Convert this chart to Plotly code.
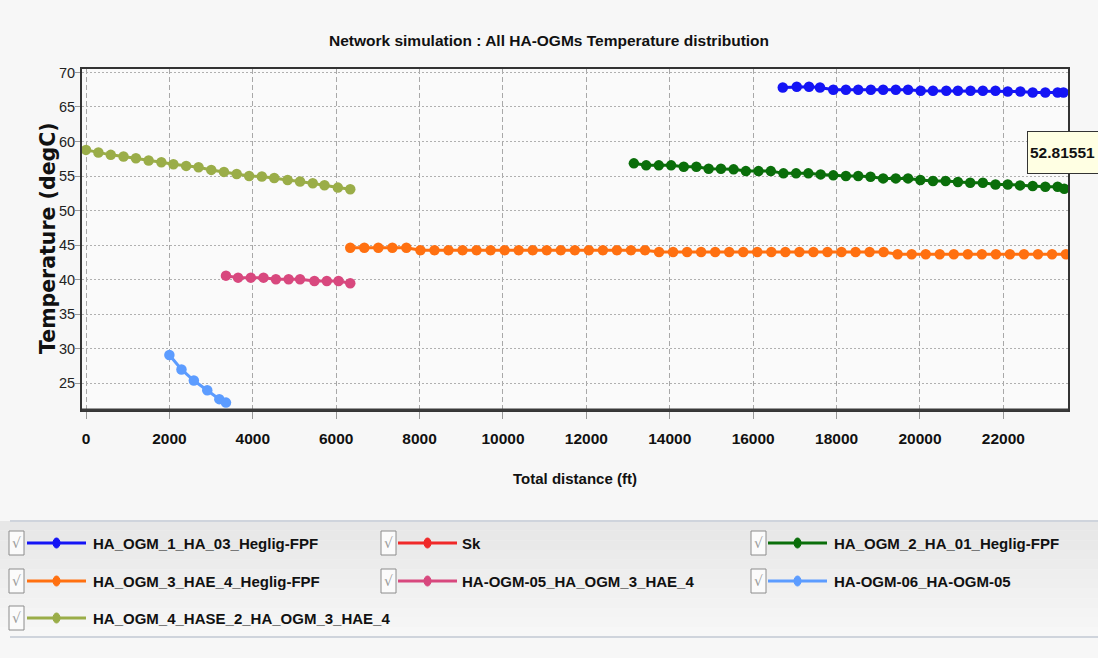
import plotly.graph_objects as go

# ---------------- data ----------------
series_names = [
    "HA_OGM_1_HA_03_Heglig-FPF",
    "Sk",
    "HA_OGM_2_HA_01_Heglig-FPF",
    "HA_OGM_3_HAE_4_Heglig-FPF",
    "HA-OGM-05_HA_OGM_3_HAE_4",
    "HA-OGM-06_HA-OGM-05",
    "HA_OGM_4_HASE_2_HA_OGM_3_HAE_4",
]
series_colors = ["#1414f5", "#f02828", "#0a6e0a", "#ff7010", "#d8487e", "#5c9cff", "#9aad48"]

ogm1_x = [16710, 17045, 17339, 17602, 17921, 18224, 18519, 18822, 19117, 19420, 19714, 20017,
          20312, 20631, 20910, 21213, 21508, 21811, 22105, 22408, 22703, 23006, 23301, 23440]
ogm1_y = [67.83, 67.92, 67.92, 67.83, 67.49, 67.49, 67.49, 67.49, 67.49, 67.49, 67.49, 67.34,
          67.34, 67.34, 67.34, 67.34, 67.34, 67.34, 67.25, 67.25, 67.10, 67.10, 67.10, 67.10]

sk_x = []
sk_y = []

ogm2_x = [13139, 13434, 13737, 14032, 14335, 14638, 14932, 15227, 15530, 15825, 16128, 16423,
          16726, 17029, 17323, 17618, 17921, 18224, 18519, 18814, 19117, 19420, 19714, 20009,
          20312, 20615, 20910, 21205, 21508, 21811, 22105, 22400, 22703, 23006, 23301, 23460]
ogm2_y = [56.84, 56.55, 56.55, 56.55, 56.35, 56.35, 56.06, 56.06, 55.97, 55.72, 55.72, 55.72,
          55.39, 55.39, 55.39, 55.24, 55.10, 55.00, 55.00, 54.90, 54.66, 54.66, 54.66, 54.42,
          54.28, 54.28, 54.13, 54.03, 54.03, 53.79, 53.79, 53.65, 53.55, 53.45, 53.45, 53.16]

ogm3_x = [6337, 6674, 7010, 7347, 7683, 8020, 8357, 8693, 9030, 9366, 9703, 10040, 10376,
          10713, 11049, 11386, 11723, 12059, 12396, 12732, 13069, 13406, 13742, 14079, 14415,
          14752, 15089, 15425, 15762, 16098, 16435, 16772, 17108, 17445, 17781, 18118, 18455,
          18791, 19128, 19464, 19801, 20138, 20474, 20811, 21147, 21484, 21821, 22157, 22494,
          22830, 23167, 23500]
ogm3_y = [44.62, 44.62, 44.62, 44.62, 44.62,
          44.27, 44.27, 44.27, 44.27, 44.27, 44.27, 44.27, 44.27, 44.27, 44.27, 44.27, 44.27,
          44.27, 44.27, 44.27, 44.27, 44.27,
          44.00, 44.00, 44.00, 44.00, 44.00, 44.00, 44.00, 44.00, 44.00, 44.00, 44.00, 44.00,
          44.00, 44.00, 44.00, 44.00, 44.00,
          43.67, 43.67, 43.67, 43.67, 43.67, 43.67, 43.67, 43.67, 43.67, 43.67, 43.67, 43.67,
          43.67]

ogm05_x = [3357, 3647, 3952, 4257, 4554, 4859, 5133, 5478, 5775, 6056, 6337]
ogm05_y = [40.58, 40.29, 40.29, 40.29, 40.05, 40.05, 40.05, 39.81, 39.81, 39.81, 39.47]

ogm06_x = [2000, 2289, 2586, 2908, 3197, 3357]
ogm06_y = [29.1, 27.0, 25.4, 24.0, 22.7, 22.2]

ogm4_x = [0, 297, 594, 900, 1197, 1502, 1807, 2096, 2402, 2699, 3004, 3309, 3614, 3912,
          4217, 4514, 4835, 5133, 5438, 5719, 6040, 6337]
ogm4_y = [58.79, 58.41, 58.07, 57.83, 57.58, 57.25, 57.00, 56.71, 56.47, 56.28, 55.89, 55.60,
          55.31, 55.02, 54.93, 54.73, 54.44, 54.20, 53.96, 53.67, 53.33, 53.09]

series_x = [ogm1_x, sk_x, ogm2_x, ogm3_x, ogm05_x, ogm06_x, ogm4_x]
series_y = [ogm1_y, sk_y, ogm2_y, ogm3_y, ogm05_y, ogm06_y, ogm4_y]

tooltip_text = "52.81551"
title_text = "Network simulation : All HA-OGMs Temperature distribution"
x_title = "Total distance (ft)"
y_title = "Temperature (degC)"
x_ticks = [0, 2000, 4000, 6000, 8000, 10000, 12000, 14000, 16000, 18000, 20000, 22000]
y_ticks = [25, 30, 35, 40, 45, 50, 55, 60, 65, 70]

# ---------------- layout geometry ----------------
W, H = 1098, 658
L, R, T, B = 82, 1068, 69, 410
PW, PH = R - L, B - T

def px(x):
    return (x - L) / PW

def py(y):
    return (B - y) / PH

FONT = "Liberation Sans, Arial, sans-serif"

fig = go.Figure()
for name, col, xs, ys in zip(series_names, series_colors, series_x, series_y):
    fig.add_trace(go.Scatter(
        x=xs, y=ys, name=name, mode="lines+markers",
        line=dict(color=col, width=3),
        marker=dict(color=col, size=10.5, symbol="circle"),
        showlegend=False, cliponaxis=True,
    ))

shapes = []
annotations = []

# legend band with stepped gradient
band_top, band_bot = 521, 637
steps = 12
for i in range(steps):
    y0 = band_top + (band_bot - band_top) * i / steps
    y1 = band_top + (band_bot - band_top) * (i + 1) / steps
    c = int(231 + (247 - 231) * i / (steps - 1))
    shapes.append(dict(type="rect", xref="paper", yref="paper",
                       x0=px(0), x1=px(W), y0=py(y1), y1=py(y0),
                       fillcolor=f"rgb({c},{c},{c})", line=dict(width=0), layer="below"))
for yy in (band_top, band_bot):
    shapes.append(dict(type="line", xref="paper", yref="paper",
                       x0=px(10), x1=px(W), y0=py(yy), y1=py(yy),
                       line=dict(color="#cfd4dc", width=2), layer="above"))

# legend entries
col_x = [(9, 27, 86, 92), (381, 398, 457, 461), (751, 768, 827, 833)]
row_y = [543, 581, 618]
for i, (name, col) in enumerate(zip(series_names, series_colors)):
    r, c = divmod(i, 3)
    cbx, lx0, lx1, tx = col_x[c]
    yc = row_y[r]
    shapes.append(dict(type="rect", xref="paper", yref="paper",
                       x0=px(cbx), x1=px(cbx + 15), y0=py(yc + 12), y1=py(yc - 12),
                       fillcolor="#fbfbfb", line=dict(color="#8c8c8c", width=1)))
    annotations.append(dict(xref="paper", yref="paper", x=px(cbx + 7.5), y=py(yc),
                            text="√", showarrow=False, xanchor="center", yanchor="middle",
                            font=dict(family="DejaVu Sans", size=14, color="#9a9a9a")))
    shapes.append(dict(type="line", xref="paper", yref="paper",
                       x0=px(lx0), x1=px(lx1), y0=py(yc), y1=py(yc),
                       line=dict(color=col, width=3)))
    mx = (lx0 + lx1) / 2
    shapes.append(dict(type="circle", xref="paper", yref="paper",
                       x0=px(mx - 3.5), x1=px(mx + 3.5), y0=py(yc + 5), y1=py(yc - 5),
                       fillcolor=col, line=dict(color=col, width=1)))
    annotations.append(dict(xref="paper", yref="paper", x=px(tx - 1), y=py(yc),
                            text=f"<b>{name}</b>", showarrow=False,
                            xanchor="left", yanchor="middle",
                            font=dict(family=FONT, size=15, color="#111111")))

# thicker bottom frame line
shapes.append(dict(type="line", xref="paper", yref="paper", x0=0, x1=1, y0=0, y1=0,
                   line=dict(color="#3a3a3a", width=3)))

# axis titles
annotations.append(dict(xref="paper", yref="paper", x=px(575), y=py(478),
                        text=f"<b>{x_title}</b>", showarrow=False,
                        xanchor="center", yanchor="middle",
                        font=dict(family=FONT, size=15, color="#111111")))
annotations.append(dict(xref="paper", yref="paper", x=px(48), y=py(238),
                        text=f"<b>{y_title}</b>", showarrow=False, textangle=-90,
                        xanchor="center", yanchor="middle",
                        font=dict(family="DejaVu Sans", size=20.5, color="#111111")))
# tooltip box
annotations.append(dict(xref="paper", yref="paper", x=px(1027), y=py(152),
                        text=f"<b>{tooltip_text}</b>", showarrow=False,
                        xanchor="left", yanchor="middle", align="left",
                        width=76, height=37, borderpad=2,
                        bgcolor="#ffffe3", bordercolor="#333333", borderwidth=1,
                        font=dict(family=FONT, size=15.5, color="#111111")))

fig.update_layout(
    width=W, height=H,
    margin=dict(l=L, r=W - R, t=T, b=H - B, pad=0),
    paper_bgcolor="#f7f7f7", plot_bgcolor="#fafafa",
    title=dict(text=f"<b>{title_text}</b>", x=0.5, xref="container", xanchor="center",
               y=1 - 41 / H, yref="container", yanchor="middle",
               font=dict(family=FONT, size=15.5, color="#111111")),
    showlegend=False,
    shapes=shapes, annotations=annotations,
    xaxis=dict(range=[-96, 23550], tickvals=x_ticks, ticktext=[f"<b>{v}</b>" for v in x_ticks],
               showgrid=True, gridcolor="#a8a8a8", griddash="5px,3px", gridwidth=1,
               showline=True, linecolor="#333333", linewidth=2, mirror=True,
               ticks="outside", ticklen=7, tickcolor="#999999",
               tickfont=dict(family=FONT, size=15.5, color="#111111"),
               ticklabelstandoff=6,
               zeroline=False, automargin=False),
    yaxis=dict(range=[21.13, 70.5], tickvals=y_ticks,
               showgrid=True, gridcolor="#b0b0b0", griddash="2px,2px", gridwidth=1,
               showline=True, linecolor="#333333", linewidth=2, mirror=True,
               ticks="outside", ticklen=5, tickcolor="#999999",
               tickfont=dict(family=FONT, size=14.5, color="#222222"),
               ticklabelstandoff=-3,
               zeroline=False, automargin=False),
)

fig.write_html("out.html")
